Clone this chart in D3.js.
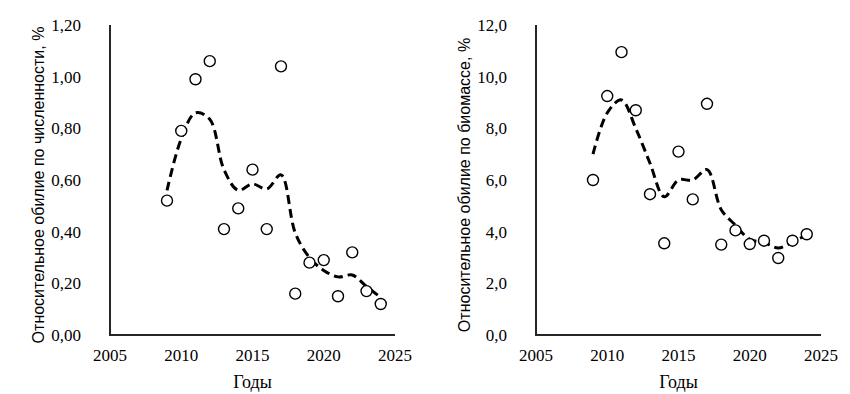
<!DOCTYPE html>
<html>
<head>
<meta charset="utf-8">
<script src="https://cdn.jsdelivr.net/npm/d3@7"></script>
<style>
  body { margin: 0; background: #fff; }
  svg { display: block; }
</style>
</head>
<body>
<div id="chart"></div>
<script>
// data
const years = [2009, 2010, 2011, 2012, 2013, 2014, 2015, 2016, 2017, 2018, 2019, 2020, 2021, 2022, 2023, 2024];

const countPoints = [0.52, 0.79, 0.99, 1.06, 0.41, 0.49, 0.64, 0.41, 1.04, 0.16, 0.28, 0.29, 0.15, 0.32, 0.17, 0.12];
const countTrend = [0.56, 0.76, 0.86, 0.835, 0.64, 0.56, 0.585, 0.565, 0.62, 0.395, 0.30, 0.25, 0.225, 0.232, 0.188, 0.145];

const massPoints = [6.0, 9.25, 10.95, 8.7, 5.45, 3.55, 7.1, 5.25, 8.95, 3.5, 4.05, 3.52, 3.65, 2.98, 3.65, 3.9];
const massTrend = [7.0, 8.6, 9.1, 8.0, 6.65, 5.35, 6.0, 6.0, 6.4, 4.85, 4.25, 3.7, 3.58, 3.37, 3.6, 3.88];

const xTicks = [2005, 2010, 2015, 2020, 2025];
const countTicks = [0, 0.2, 0.4, 0.6, 0.8, 1.0, 1.2];
const massTicks = [0, 2, 4, 6, 8, 10, 12];

const svgObj = { width: 850, height: 394 };
const SERIF = '"Liberation Serif", "Times New Roman", serif';
const SANS = '"Liberation Sans", Arial, sans-serif';

const svg = d3
  .select("#chart")
  .append("svg")
  .attr("width", svgObj.width)
  .attr("height", svgObj.height);

const panels = [
  {
    left: 110,
    points: countPoints,
    trend: countTrend,
    ticks: countTicks,
    yMax: 1.2,
    digits: 2,
    title: "Относительное обилие по численности, %",
  },
  {
    left: 536,
    points: massPoints,
    trend: massTrend,
    ticks: massTicks,
    yMax: 12,
    digits: 1,
    title: "Относительное обилие по биомассе, %",
  },
];

const plot = { top: 25, bottom: 335, width: 285 };

const fmt = (d, n) => d.toFixed(n).replace(".", ",");

panels.forEach((p) => {
  const x = d3.scaleLinear().domain([2005, 2025]).range([p.left, p.left + plot.width]);
  const y = d3.scaleLinear().domain([0, p.yMax]).range([plot.bottom, plot.top]);

  const g = svg.append("g");

  // x tick labels
  g.append("g")
    .selectAll("text")
    .data(xTicks)
    .join("text")
    .attr("x", (d) => x(d))
    .attr("y", plot.bottom + 26)
    .attr("text-anchor", "middle")
    .style("font-family", SERIF)
    .style("font-size", "17px")
    .attr("fill", "#000")
    .text((d) => d);

  // y tick labels
  g.append("g")
    .selectAll("text")
    .data(p.ticks)
    .join("text")
    .attr("x", p.left - 29)
    .attr("y", (d) => y(d))
    .attr("dy", "0.35em")
    .attr("text-anchor", "end")
    .style("font-family", SERIF)
    .style("font-size", "17px")
    .attr("fill", "#000")
    .text((d) => fmt(d, p.digits));

  // axis lines
  g.append("path")
    .attr("d", `M${p.left},${plot.top}V${plot.bottom}H${p.left + plot.width}`)
    .attr("fill", "none")
    .attr("stroke", "#262626")
    .attr("stroke-width", 2);

  // titles
  g.append("text")
    .attr("x", p.left + plot.width / 2)
    .attr("y", 388)
    .attr("text-anchor", "middle")
    .style("font-family", SERIF)
    .style("font-size", "18px")
    .text("Годы");

  g.append("text")
    .attr("transform", `translate(${p.left - 72}, ${(plot.top + plot.bottom) / 2 + 5}) rotate(-90)`)
    .attr("text-anchor", "middle")
    .attr("dominant-baseline", "central")
    .style("font-family", SANS)
    .style("font-size", "16px")
    .text(p.title);

  // smoothed dashed trend
  const line = d3
    .line()
    .x((d, i) => x(years[i]))
    .y((d) => y(d))
    .curve(d3.curveCatmullRom.alpha(0.5));

  g.append("path")
    .datum(p.trend)
    .attr("d", line)
    .attr("fill", "none")
    .attr("stroke", "#000")
    .attr("stroke-width", 3)
    .attr("stroke-dasharray", "9,5");

  // markers
  g.selectAll("circle")
    .data(p.points)
    .join("circle")
    .attr("cx", (d, i) => x(years[i]))
    .attr("cy", (d) => y(d))
    .attr("r", 5.5)
    .attr("fill", "#fff")
    .attr("stroke", "#000")
    .attr("stroke-width", 1.4);
});
</script>
</body>
</html>
